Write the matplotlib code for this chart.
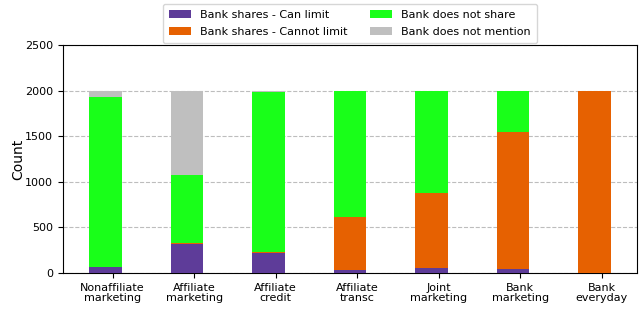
import matplotlib

matplotlib.use("Agg")
import matplotlib.pyplot as plt
import numpy as np

CATEGORIES = [
    "Nonaffiliate\nmarketing", "Affiliate\nmarketing", "Affiliate\ncredit",
    "Affiliate\ntransc", "Joint\nmarketing", "Bank\nmarketing", "Bank\neveryday",
]
CAN_LIMIT = [59, 311, 216, 29, 48, 40, 0]
CANNOT_LIMIT = [0, 15, 11, 582, 827, 1501, 2000]
NOT_SHARE = [1870, 743, 1757, 1389, 1125, 459, 0]
NOT_MENTION = [71, 931, 16, 0, 0, 0, 0]

SERIES = [
    ("Bank shares - Can limit", CAN_LIMIT, "#5e3c99"),
    ("Bank shares - Cannot limit", CANNOT_LIMIT, "#e66101"),
    ("Bank does not share", NOT_SHARE, "#19ff19"),
    ("Bank does not mention", NOT_MENTION, "#bfbfbf"),
]

fig, ax = plt.subplots(figsize=(6.42, 3.10), dpi=100)
fig.subplots_adjust(left=0.098, right=0.992, top=0.855, bottom=0.12)

x = np.arange(len(CATEGORIES))
bottom = np.zeros(len(CATEGORIES))
for label, vals, color in SERIES:
    ax.bar(x, vals, width=0.4, bottom=bottom, color=color, label=label, zorder=3)
    bottom += np.array(vals)

ax.set_xlim(-0.52, 6.52)
ax.set_ylim(0, 2500)
ax.set_yticks(np.arange(0, 2501, 500))
ax.set_xticks(x + 0.09)
ax.set_xticklabels(CATEGORIES, fontsize=8, linespacing=1.0)
ax.tick_params(axis="y", labelsize=8)
ax.set_ylabel("Count", fontsize=10, labelpad=0)
ax.yaxis.grid(True, linestyle="--", color="#bdbdbd", linewidth=0.8, zorder=0)

ax.legend(
    loc="lower center", bbox_to_anchor=(0.5, 0.985), ncol=2, fontsize=8,
    handlelength=2.0, columnspacing=2.0, borderpad=0.55, labelspacing=0.6,
)

fig.savefig("out.png", dpi=100)
